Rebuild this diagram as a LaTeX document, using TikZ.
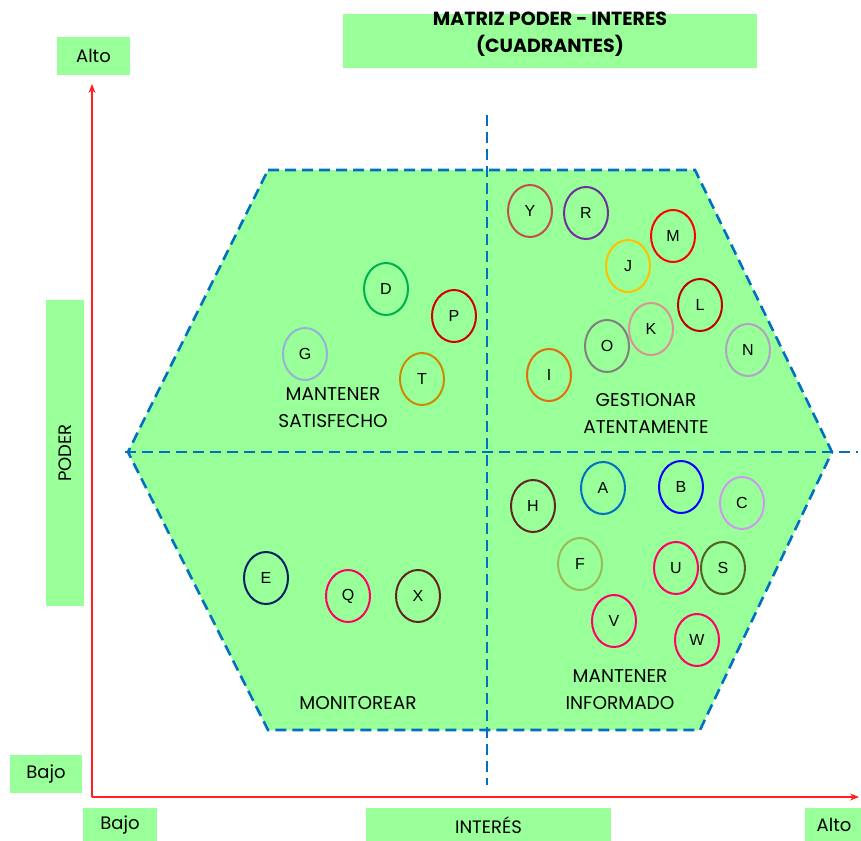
\documentclass[tikz,border=0pt]{standalone}
\usepackage{fontspec}
\setmainfont{Poppins}
\newfontfamily\letterfont{Liberation Sans}
\usetikzlibrary{shapes.geometric,arrows.meta}
\definecolor{quadgreen}{HTML}{99FF99}
\definecolor{gridblue}{HTML}{0070C0}
\definecolor{axisred}{HTML}{FF2020}
% ring colours
\definecolor{cY}{HTML}{C0504D}
\definecolor{cR}{HTML}{7030A0}
\definecolor{cM}{HTML}{FF0000}
\definecolor{cJ}{HTML}{FFC000}
\definecolor{cL}{HTML}{C00000}
\definecolor{cK}{HTML}{D99594}
\definecolor{cO}{HTML}{808080}
\definecolor{cN}{HTML}{B3A2C7}
\definecolor{cI}{HTML}{E46C0A}
\definecolor{cD}{HTML}{00B050}
\definecolor{cP}{HTML}{D00000}
\definecolor{cG}{HTML}{95B3D7}
\definecolor{cT}{HTML}{CC8A00}
\definecolor{cH}{HTML}{632523}
\definecolor{cA}{HTML}{0070C0}
\definecolor{cB}{HTML}{0000FF}
\definecolor{cC}{HTML}{CC99F0}
\definecolor{cF}{HTML}{9BBB59}
\definecolor{cPink}{HTML}{FF0066}
\definecolor{cS}{HTML}{4F6228}
\definecolor{cE}{HTML}{002060}
\tikzset{
  labelbox/.style={fill=quadgreen, draw=none, inner sep=0pt, font=\fontsize{18}{20}\selectfont},
  quadtext/.style={align=center, font=\fontsize{18.5}{27}\selectfont, inner sep=0pt},
  stake/.style={ellipse, draw=#1, line width=2pt, minimum width=44pt, minimum height=52pt, inner sep=0pt, font=\letterfont\fontsize{16}{18}\selectfont},
  gridline/.style={gridblue, line width=2.6pt, dash pattern=on 11pt off 6pt},
  axisline/.style={axisred, line width=1.4pt, -{Stealth[length=9pt,width=7pt]}}
}
\begin{document}
\begin{tikzpicture}[x=1pt,y=-1pt]
\useasboundingbox (0,0) rectangle (861,840);

% quadrant hexagon
\fill[quadgreen] (268,170) -- (695,170) -- (832,452) -- (700,730) -- (268,730) -- (128,452) -- cycle;
\draw[gridline] (268,170) -- (695,170) -- (832,452) -- (700,730) -- (268,730) -- (128,452) -- cycle;

% dividing lines
\coordinate (vtop) at (487,115);
\coordinate (vbot) at (487,785);
\coordinate (hleft) at (125,452);
\coordinate (hright) at (858,452);
\draw[gridline] (vtop) -- (vbot);
\draw[gridline] (hleft) -- (hright);

% axes
\coordinate (origin) at (92,797);
\coordinate (ytip) at (92,84);
\coordinate (xtip) at (859,797);
\draw[axisline] (origin) -- (ytip);
\draw[axisline] (origin) -- (xtip);

% labels on green boxes
\node[labelbox, minimum width=414pt, minimum height=54pt] (titlebox) at (550,41) {};
\node[align=center, inner sep=0pt, font=\bfseries\fontsize{19}{27}\selectfont] (title) at (550,34) {MATRIZ PODER - INTERES\\(CUADRANTES)};
\node[labelbox, minimum width=73pt, minimum height=38pt] (altoy) at (93.5,56) {Alto};
\node[labelbox, minimum width=306pt, minimum height=38pt, rotate=90] (poder) at (65,453) {PODER};
\node[labelbox, minimum width=72pt, minimum height=38pt] (bajoy) at (46,774) {Bajo};
\node[labelbox, minimum width=74pt, minimum height=34pt] (bajox) at (120,825) {Bajo};
\node[labelbox, minimum width=245pt, minimum height=34pt] (interes) at (488.5,825) {INTERÉS};
\node[labelbox, minimum width=58pt, minimum height=34pt] (altox) at (834,825) {Alto};

% quadrant names
\node[quadtext] (satisf) at (333,408) {MANTENER\\SATISFECHO};
\node[quadtext] (gestion) at (646,413) {GESTIONAR\\ATENTAMENTE};
\node[quadtext] (monitor) at (358,703) {MONITOREAR};
\node[quadtext] (informado) at (620,690) {MANTENER\\INFORMADO};

% stakeholders
\node[stake=cY] (Y) at (530,211) {Y};
\node[stake=cR] (R) at (586,213) {R};
\node[stake=cM] (M) at (673,236) {M};
\node[stake=cJ] (J) at (628,266) {J};
\node[stake=cL] (L) at (700,305) {L};
\node[stake=cK] (K) at (651,329) {K};
\node[stake=cO] (O) at (607,346) {O};
\node[stake=cN] (N) at (748,350) {N};
\node[stake=cI] (I) at (549,375) {I};

\node[stake=cD] (D) at (386,289) {D};
\node[stake=cP] (P) at (454,316) {P};
\node[stake=cG] (G) at (305,354) {G};
\node[stake=cT] (T) at (422,379) {T};

\node[stake=cH] (H) at (533,506) {H};
\node[stake=cA] (A) at (603,488) {A};
\node[stake=cB] (B) at (681,487) {B};
\node[stake=cC] (C) at (742,503) {C};
\node[stake=cF] (F) at (580,564) {F};
\node[stake=cPink] (U) at (676,568) {U};
\node[stake=cS] (S) at (723,568) {S};
\node[stake=cPink] (V) at (614,621) {V};
\node[stake=cPink] (W) at (697,640) {W};

\node[stake=cE] (E) at (266,578) {E};
\node[stake=cPink] (Q) at (348,596) {Q};
\node[stake=cH] (X) at (418,596) {X};
\end{tikzpicture}
\end{document}
